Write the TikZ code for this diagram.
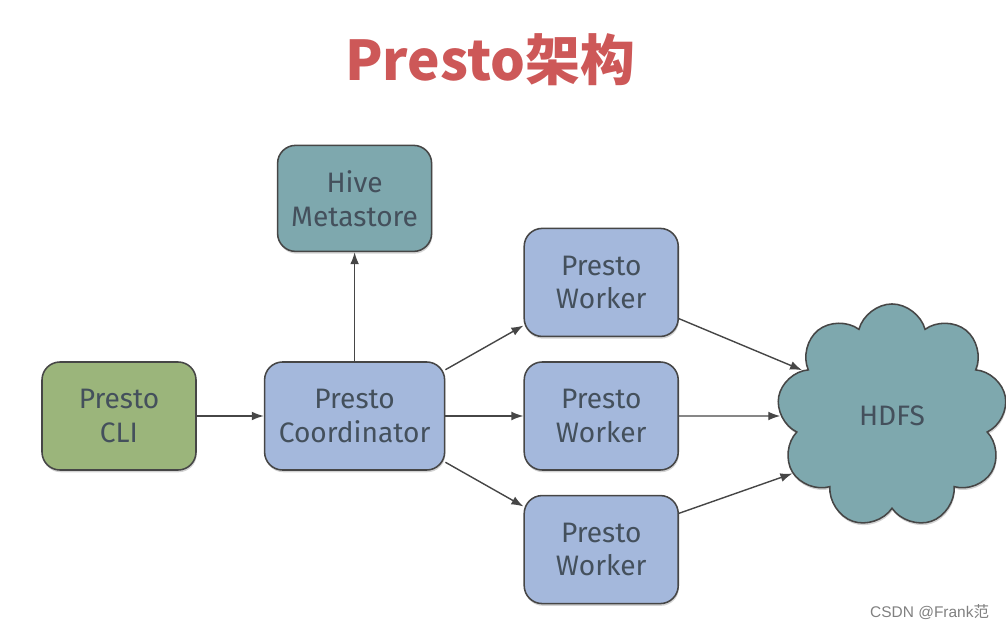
\documentclass[tikz,border=0pt]{standalone}
\usepackage{fontspec}
\setmainfont{Fira Sans}
\newfontfamily\cjkfont{Noto Sans CJK SC}
\newfontfamily\marksans{Liberation Sans}
\usetikzlibrary{arrows.meta, positioning, shapes.symbols, shadows}

\definecolor{workerblue}{RGB}{164,184,220}
\definecolor{cligreen}{RGB}{155,181,123}
\definecolor{hiveteal}{RGB}{126,168,174}
\definecolor{edgegray}{RGB}{70,70,70}
\definecolor{labelgray}{RGB}{68,80,92}
\definecolor{titlered}{RGB}{205,88,88}

\begin{document}
\begin{tikzpicture}[
  x=0.025cm, y=-0.025cm,
  box/.style={draw=edgegray, line width=1.1pt, rounded corners=0.45cm, align=center,
              minimum width=3.85cm, minimum height=2.7cm, text=labelgray,
              font=\fontsize{20}{24}\selectfont,
              drop shadow={shadow xshift=0.5pt, shadow yshift=-1.6pt, opacity=0.35}},
  worker/.style={box, fill=workerblue},
  flow/.style={-{Latex[length=3mm, width=2.2mm]}, draw=edgegray, line width=1pt}
]
\useasboundingbox (0,0) rectangle (1006,628);

\node[font=\cjkfont\bfseries\fontsize{39}{44}\selectfont, text=titlered] (title) at (490,60) {Presto架构};

\node[box, fill=cligreen] (cli) at (119,416) {Presto\\CLI};
\node[worker, right=1.675cm of cli, minimum width=4.5cm] (coord) {Presto\\Coordinator};
\node[box, fill=hiveteal, above=2.725cm of coord, minimum height=2.65cm] (hive) {Hive\\Metastore};
\node[worker, right=1.95cm of coord] (w2) {Presto\\Worker};
\node[worker, above=0.6cm of w2] (w1) {Presto\\Worker};
\node[worker, below=0.6cm of w2] (w3) {Presto\\Worker};
\node[box, fill=hiveteal, cloud, cloud puffs=9, aspect=1, rounded corners=0pt,
      minimum width=5.75cm, minimum height=5.6cm] (hdfs) at (892,416) {HDFS};

\draw[flow] (cli) -- (coord);
\draw[flow] (coord) -- (hive);
\draw[flow] (coord.27) -- (w1.209);
\draw[flow] (coord) -- (w2);
\draw[flow] (coord.-27) -- (w3.151);
\draw[flow] (w1.-25) -- (hdfs.153);
\draw[flow] (w2) -- (hdfs);
\draw[flow] (w3.25) -- (hdfs.210);

\node[font=\marksans\fontsize{11}{13}\selectfont, text=gray, anchor=east] (mark) at (994,612) {CSDN @Frank{\cjkfont 范}};
\end{tikzpicture}
\end{document}
